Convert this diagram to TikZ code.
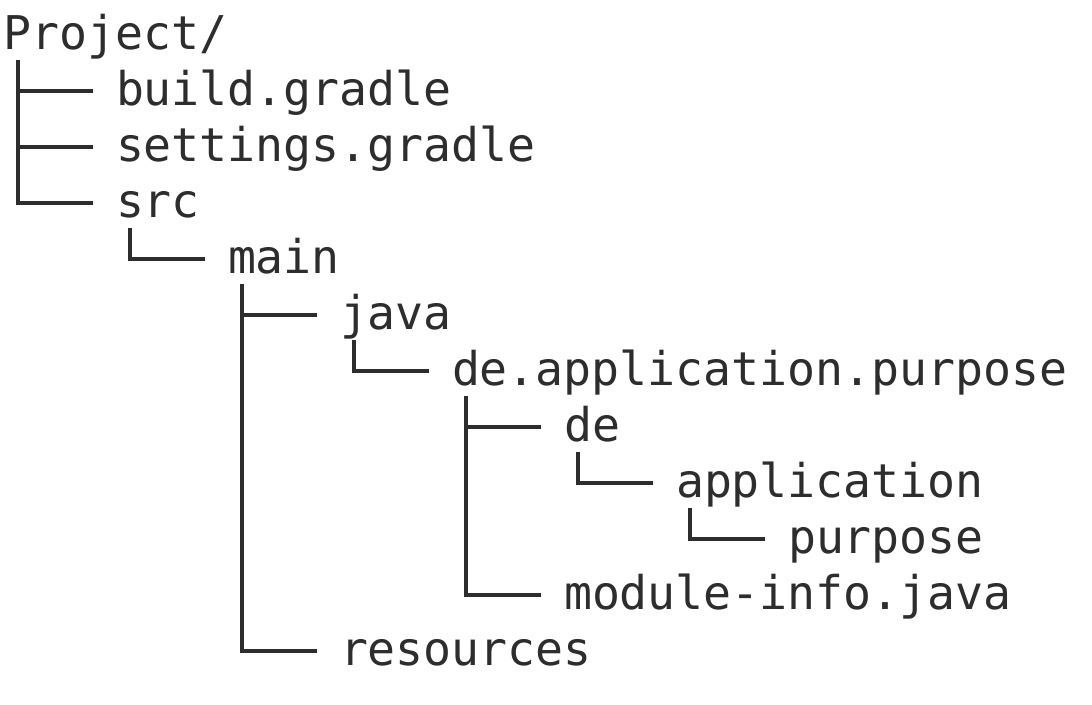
\documentclass[tikz,border=0pt]{standalone}
\usepackage{fontspec}
\setmonofont{DejaVu Sans Mono}
\definecolor{ink}{RGB}{45,45,45}
\begin{document}
\begin{tikzpicture}[x=1pt,y=-1pt,
  entry/.style={anchor=base west,inner sep=0pt,outer sep=0pt,text=ink,
    font=\ttfamily\fontsize{46.5}{56}\selectfont},
  branch/.style={draw=ink,line width=3.8pt,line join=miter,line cap=butt}]
\useasboundingbox (0,0) rectangle (1092,704);
% level k starts at x = 4 + 112k, row i has its baseline at y = 49 + 56i
\node[entry] (root)   at (4,49)    {Project/};
\node[entry] (build)  at (116,105) {build.gradle};
\node[entry] (sett)   at (116,161) {settings.gradle};
\node[entry] (src)    at (116,217) {src};
\node[entry] (main)   at (228,273) {main};
\node[entry] (java)   at (340,329) {java};
\node[entry] (pkg)    at (452,385) {de.application.purpose};
\node[entry] (de)     at (564,441) {de};
\node[entry] (app)    at (676,497) {application};
\node[entry] (purp)   at (788,553) {purpose};
\node[entry] (modinf) at (564,609) {module-info.java};
\node[entry] (res)    at (340,665) {resources};
% tree branches: down from the parent, then across to the child
\foreach \p/\c in {root/build,root/sett,root/src,src/main,main/java,
    java/pkg,pkg/de,de/app,app/purp,pkg/modinf,main/res}
  \draw[branch] ([xshift=14pt,yshift=-11pt]\p.base west)
     |- ([xshift=-23pt,yshift=14pt]\c.base west);
\end{tikzpicture}
\end{document}
